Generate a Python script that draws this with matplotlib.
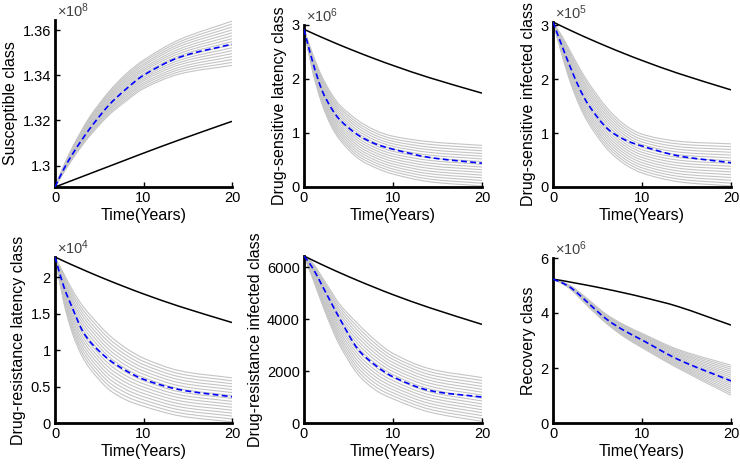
import matplotlib
matplotlib.use("Agg")
import matplotlib.pyplot as plt
from matplotlib.path import Path
from matplotlib.patches import PathPatch

plt.rcParams['font.family'] = ['Liberation Sans', 'DejaVu Sans']
plt.rcParams['mathtext.default'] = 'regular'

# sample times (years)
t_years = [0, 1, 2, 3, 4, 6, 8, 10, 14, 20]

# Susceptible class (x 1e8)
sus_black = [1.2905, 1.2920, 1.2935, 1.2950, 1.2965, 1.2995, 1.3025, 1.3055, 1.3113, 1.3196]
sus_blue = [1.2905, 1.2985, 1.3052, 1.3112, 1.3167, 1.3264, 1.3338, 1.3400, 1.3479, 1.3538]
sus_gray = [
    [1.2905, 1.2970, 1.3030, 1.3085, 1.3135, 1.3220, 1.3285, 1.3341, 1.3405, 1.3444],
    [1.2905, 1.2972, 1.3034, 1.3090, 1.3141, 1.3227, 1.3293, 1.3349, 1.3415, 1.3457],
    [1.2905, 1.2974, 1.3037, 1.3094, 1.3146, 1.3234, 1.3301, 1.3358, 1.3425, 1.3470],
    [1.2905, 1.2976, 1.3041, 1.3099, 1.3152, 1.3241, 1.3309, 1.3366, 1.3435, 1.3483],
    [1.2905, 1.2978, 1.3044, 1.3104, 1.3158, 1.3247, 1.3317, 1.3375, 1.3446, 1.3496],
    [1.2905, 1.2980, 1.3048, 1.3108, 1.3163, 1.3254, 1.3325, 1.3383, 1.3456, 1.3509],
    [1.2905, 1.2982, 1.3051, 1.3113, 1.3169, 1.3261, 1.3333, 1.3391, 1.3466, 1.3522],
    [1.2905, 1.2984, 1.3055, 1.3118, 1.3175, 1.3268, 1.3341, 1.3400, 1.3476, 1.3535],
    [1.2905, 1.2986, 1.3058, 1.3122, 1.3180, 1.3275, 1.3349, 1.3408, 1.3486, 1.3549],
    [1.2905, 1.2988, 1.3062, 1.3127, 1.3186, 1.3282, 1.3357, 1.3417, 1.3496, 1.3562],
    [1.2905, 1.2990, 1.3065, 1.3132, 1.3192, 1.3289, 1.3365, 1.3425, 1.3506, 1.3575],
    [1.2905, 1.2992, 1.3069, 1.3136, 1.3197, 1.3296, 1.3373, 1.3433, 1.3516, 1.3588],
    [1.2905, 1.2994, 1.3072, 1.3141, 1.3203, 1.3302, 1.3381, 1.3442, 1.3527, 1.3601],
    [1.2905, 1.2996, 1.3076, 1.3146, 1.3209, 1.3309, 1.3389, 1.3450, 1.3537, 1.3614],
    [1.2905, 1.2998, 1.3079, 1.3150, 1.3214, 1.3316, 1.3397, 1.3459, 1.3547, 1.3627],
    [1.2905, 1.3000, 1.3083, 1.3155, 1.3220, 1.3323, 1.3405, 1.3467, 1.3557, 1.3640],
]

# Drug-sensitive latency class (x 1e6)
dsl_black = [2.92, 2.845, 2.772, 2.701, 2.631, 2.498, 2.371, 2.251, 2.029, 1.738]
dsl_blue = [2.92, 2.30, 1.80, 1.48, 1.25, 0.97, 0.80, 0.70, 0.55, 0.44]
dsl_gray = [
    [2.92, 2.120, 1.550, 1.150, 0.880, 0.540, 0.360, 0.240, 0.100, 0.020],
    [2.92, 2.142, 1.583, 1.190, 0.923, 0.587, 0.406, 0.287, 0.149, 0.070],
    [2.92, 2.164, 1.617, 1.230, 0.965, 0.633, 0.452, 0.333, 0.199, 0.120],
    [2.92, 2.186, 1.650, 1.270, 1.008, 0.680, 0.498, 0.380, 0.248, 0.170],
    [2.92, 2.208, 1.683, 1.310, 1.051, 0.727, 0.544, 0.427, 0.297, 0.220],
    [2.92, 2.230, 1.717, 1.350, 1.093, 0.773, 0.590, 0.473, 0.347, 0.270],
    [2.92, 2.252, 1.750, 1.390, 1.136, 0.820, 0.636, 0.520, 0.396, 0.320],
    [2.92, 2.274, 1.783, 1.430, 1.179, 0.867, 0.682, 0.567, 0.445, 0.370],
    [2.92, 2.296, 1.817, 1.470, 1.221, 0.913, 0.728, 0.613, 0.495, 0.420],
    [2.92, 2.318, 1.850, 1.510, 1.264, 0.960, 0.774, 0.660, 0.544, 0.470],
    [2.92, 2.340, 1.883, 1.550, 1.307, 1.007, 0.820, 0.707, 0.593, 0.520],
    [2.92, 2.362, 1.917, 1.590, 1.349, 1.053, 0.866, 0.753, 0.643, 0.570],
    [2.92, 2.384, 1.950, 1.630, 1.392, 1.100, 0.912, 0.800, 0.692, 0.620],
    [2.92, 2.406, 1.983, 1.670, 1.435, 1.147, 0.958, 0.847, 0.741, 0.670],
    [2.92, 2.428, 2.017, 1.710, 1.477, 1.193, 1.004, 0.893, 0.791, 0.720],
    [2.92, 2.450, 2.050, 1.750, 1.520, 1.240, 1.050, 0.940, 0.840, 0.770],
]

# Drug-sensitive infected class (x 1e5)
dsi_black = [3.06, 2.980, 2.902, 2.826, 2.752, 2.610, 2.475, 2.347, 2.111, 1.801]
dsi_blue = [3.06, 2.62, 2.20, 1.82, 1.52, 1.10, 0.88, 0.76, 0.58, 0.45]
dsi_gray = [
    [3.06, 2.450, 1.920, 1.500, 1.180, 0.720, 0.430, 0.260, 0.100, 0.020],
    [3.06, 2.473, 1.959, 1.547, 1.230, 0.771, 0.479, 0.308, 0.150, 0.072],
    [3.06, 2.497, 1.997, 1.593, 1.280, 0.821, 0.527, 0.356, 0.200, 0.124],
    [3.06, 2.520, 2.036, 1.640, 1.330, 0.872, 0.576, 0.404, 0.250, 0.176],
    [3.06, 2.543, 2.075, 1.687, 1.380, 0.923, 0.625, 0.452, 0.300, 0.228],
    [3.06, 2.567, 2.113, 1.733, 1.430, 0.973, 0.673, 0.500, 0.350, 0.280],
    [3.06, 2.590, 2.152, 1.780, 1.480, 1.024, 0.722, 0.548, 0.400, 0.332],
    [3.06, 2.613, 2.191, 1.827, 1.530, 1.075, 0.771, 0.596, 0.450, 0.384],
    [3.06, 2.637, 2.229, 1.873, 1.580, 1.125, 0.819, 0.644, 0.500, 0.436],
    [3.06, 2.660, 2.268, 1.920, 1.630, 1.176, 0.868, 0.692, 0.550, 0.488],
    [3.06, 2.683, 2.307, 1.967, 1.680, 1.227, 0.917, 0.740, 0.600, 0.540],
    [3.06, 2.707, 2.345, 2.013, 1.730, 1.277, 0.965, 0.788, 0.650, 0.592],
    [3.06, 2.730, 2.384, 2.060, 1.780, 1.328, 1.014, 0.836, 0.700, 0.644],
    [3.06, 2.753, 2.423, 2.107, 1.830, 1.379, 1.063, 0.884, 0.750, 0.696],
    [3.06, 2.777, 2.461, 2.153, 1.880, 1.429, 1.111, 0.932, 0.800, 0.748],
    [3.06, 2.800, 2.500, 2.200, 1.930, 1.480, 1.160, 0.980, 0.850, 0.800],
]

# Drug-resistance latency class (x 1e4)
drl_black = [2.28, 2.223, 2.168, 2.115, 2.062, 1.961, 1.865, 1.773, 1.604, 1.380]
drl_blue = [2.28, 1.87, 1.57, 1.29, 1.11, 0.88, 0.72, 0.60, 0.46, 0.36]
drl_gray = [
    [2.28, 1.650, 1.220, 0.930, 0.740, 0.470, 0.320, 0.230, 0.100, 0.015],
    [2.28, 1.677, 1.260, 0.977, 0.789, 0.520, 0.367, 0.274, 0.141, 0.055],
    [2.28, 1.703, 1.300, 1.023, 0.839, 0.570, 0.415, 0.318, 0.183, 0.096],
    [2.28, 1.730, 1.340, 1.070, 0.888, 0.620, 0.462, 0.362, 0.224, 0.136],
    [2.28, 1.757, 1.380, 1.117, 0.937, 0.670, 0.509, 0.406, 0.265, 0.176],
    [2.28, 1.783, 1.420, 1.163, 0.987, 0.720, 0.557, 0.450, 0.307, 0.217],
    [2.28, 1.810, 1.460, 1.210, 1.036, 0.770, 0.604, 0.494, 0.348, 0.257],
    [2.28, 1.837, 1.500, 1.257, 1.085, 0.820, 0.651, 0.538, 0.389, 0.297],
    [2.28, 1.863, 1.540, 1.303, 1.135, 0.870, 0.699, 0.582, 0.431, 0.338],
    [2.28, 1.890, 1.580, 1.350, 1.184, 0.920, 0.746, 0.626, 0.472, 0.378],
    [2.28, 1.917, 1.620, 1.397, 1.233, 0.970, 0.793, 0.670, 0.513, 0.418],
    [2.28, 1.943, 1.660, 1.443, 1.283, 1.020, 0.841, 0.714, 0.555, 0.459],
    [2.28, 1.970, 1.700, 1.490, 1.332, 1.070, 0.888, 0.758, 0.596, 0.499],
    [2.28, 1.997, 1.740, 1.537, 1.381, 1.120, 0.935, 0.802, 0.637, 0.539],
    [2.28, 2.023, 1.780, 1.583, 1.431, 1.170, 0.983, 0.846, 0.679, 0.580],
    [2.28, 2.050, 1.820, 1.630, 1.480, 1.220, 1.030, 0.890, 0.720, 0.620],
]

# Drug-resistance infected class
dri_black = [6435, 6268, 6105, 5947, 5793, 5496, 5215, 4945, 4455, 3800]
dri_blue = [6435, 5960, 5320, 4670, 4030, 2870, 2230, 1780, 1260, 1000]
dri_gray = [
    [6435, 5550, 4620, 3750, 3000, 1900, 1280, 930, 430, 60],
    [6435, 5590, 4688, 3840, 3105, 2029, 1407, 1047, 541, 173],
    [6435, 5630, 4756, 3930, 3211, 2159, 1535, 1163, 653, 285],
    [6435, 5670, 4824, 4020, 3316, 2288, 1662, 1280, 764, 398],
    [6435, 5710, 4892, 4110, 3421, 2417, 1789, 1397, 875, 511],
    [6435, 5750, 4960, 4200, 3527, 2547, 1917, 1513, 987, 623],
    [6435, 5790, 5028, 4290, 3632, 2676, 2044, 1630, 1098, 736],
    [6435, 5830, 5096, 4380, 3737, 2805, 2171, 1747, 1209, 849],
    [6435, 5870, 5164, 4470, 3843, 2935, 2299, 1863, 1321, 961],
    [6435, 5910, 5232, 4560, 3948, 3064, 2426, 1980, 1432, 1074],
    [6435, 5950, 5300, 4650, 4053, 3193, 2553, 2097, 1543, 1187],
    [6435, 5990, 5368, 4740, 4159, 3323, 2681, 2213, 1655, 1299],
    [6435, 6030, 5436, 4830, 4264, 3452, 2808, 2330, 1766, 1412],
    [6435, 6070, 5504, 4920, 4369, 3581, 2935, 2447, 1877, 1525],
    [6435, 6110, 5572, 5010, 4475, 3711, 3063, 2563, 1989, 1637],
    [6435, 6150, 5640, 5100, 4580, 3840, 3190, 2680, 2100, 1750],
]

# Recovery class (x 1e6)
rec_black = [5.23, 5.18, 5.12, 5.06, 5.00, 4.87, 4.73, 4.58, 4.24, 3.56]
rec_blue = [5.23, 5.10, 4.92, 4.65, 4.35, 3.78, 3.36, 3.02, 2.32, 1.53]
rec_gray = [
    [5.23, 5.080, 4.860, 4.550, 4.220, 3.620, 3.130, 2.740, 2.000, 1.010],
    [5.23, 5.083, 4.868, 4.563, 4.237, 3.642, 3.159, 2.775, 2.045, 1.083],
    [5.23, 5.087, 4.876, 4.577, 4.255, 3.664, 3.189, 2.809, 2.091, 1.155],
    [5.23, 5.090, 4.884, 4.590, 4.272, 3.686, 3.218, 2.844, 2.136, 1.228],
    [5.23, 5.093, 4.892, 4.603, 4.289, 3.708, 3.247, 2.879, 2.181, 1.301],
    [5.23, 5.097, 4.900, 4.617, 4.307, 3.730, 3.277, 2.913, 2.227, 1.373],
    [5.23, 5.100, 4.908, 4.630, 4.324, 3.752, 3.306, 2.948, 2.272, 1.446],
    [5.23, 5.103, 4.916, 4.643, 4.341, 3.774, 3.335, 2.983, 2.317, 1.519],
    [5.23, 5.107, 4.924, 4.657, 4.359, 3.796, 3.365, 3.017, 2.363, 1.591],
    [5.23, 5.110, 4.932, 4.670, 4.376, 3.818, 3.394, 3.052, 2.408, 1.664],
    [5.23, 5.113, 4.940, 4.683, 4.393, 3.840, 3.423, 3.087, 2.453, 1.737],
    [5.23, 5.117, 4.948, 4.697, 4.411, 3.862, 3.453, 3.121, 2.499, 1.809],
    [5.23, 5.120, 4.956, 4.710, 4.428, 3.884, 3.482, 3.156, 2.544, 1.882],
    [5.23, 5.123, 4.964, 4.723, 4.445, 3.906, 3.511, 3.191, 2.589, 1.955],
    [5.23, 5.127, 4.972, 4.737, 4.463, 3.928, 3.541, 3.225, 2.635, 2.027],
    [5.23, 5.130, 4.980, 4.750, 4.480, 3.950, 3.570, 3.260, 2.680, 2.100],
]

W, H = 740, 469


def px_box(x0, x1, y0, y1):
    # pixel box (from top-left) -> figure fraction
    return [x0 / W, 1 - y1 / H, (x1 - x0) / W, (y1 - y0) / H]


def smooth_line(ax, t, y, **kw):
    # draw the sampled curve as a smooth bezier path through every sample
    n = len(t)
    m = []
    for i in range(n):
        a, b = max(i - 1, 0), min(i + 1, n - 1)
        m.append((y[b] - y[a]) / (t[b] - t[a]))
    verts = [(t[0], y[0])]
    codes = [Path.MOVETO]
    for i in range(n - 1):
        h = (t[i + 1] - t[i]) / 3
        verts += [(t[i] + h, y[i] + m[i] * h),
                  (t[i + 1] - h, y[i + 1] - m[i + 1] * h),
                  (t[i + 1], y[i + 1])]
        codes += [Path.CURVE4] * 3
    ax.add_patch(PathPatch(Path(verts, codes), fill=False, **kw))


panels = [
    dict(box=(55, 232, 20, 187), label='Susceptible class', black=sus_black, blue=sus_blue,
         gray=sus_gray, ylim=(1.2905, 1.3645), yticks=[1.30, 1.32, 1.34, 1.36],
         ytl=['1.3', '1.32', '1.34', '1.36'], exp='8'),
    dict(box=(304, 482, 25, 187), label='Drug-sensitive latency class', black=dsl_black,
         blue=dsl_blue, gray=dsl_gray, ylim=(0, 3), yticks=[0, 1, 2, 3],
         ytl=['0', '1', '2', '3'], exp='6'),
    dict(box=(553, 731, 22, 187), label='Drug-sensitive infected class', black=dsi_black,
         blue=dsi_blue, gray=dsi_gray, ylim=(0, 3.06), yticks=[0, 1, 2, 3],
         ytl=['0', '1', '2', '3'], exp='5'),
    dict(box=(55, 232, 257, 423), label='Drug-resistance latency class', black=drl_black,
         blue=drl_blue, gray=drl_gray, ylim=(0, 2.28), yticks=[0, 0.5, 1, 1.5, 2],
         ytl=['0', '0.5', '1', '1.5', '2'], exp='4'),
    dict(box=(304, 482, 256, 423), label='Drug-resistance infected class', black=dri_black,
         blue=dri_blue, gray=dri_gray, ylim=(0, 6435), yticks=[0, 2000, 4000, 6000],
         ytl=['0', '2000', '4000', '6000'], exp=None),
    dict(box=(553, 731, 258, 423), label='Recovery class', black=rec_black, blue=rec_blue,
         gray=rec_gray, ylim=(0, 6), yticks=[0, 2, 4, 6],
         ytl=['0', '2', '4', '6'], exp='6'),
]

fig = plt.figure(figsize=(W / 100, H / 100), dpi=100)

for p in panels:
    ax = fig.add_axes(px_box(*p['box']))
    for g in p['gray']:
        smooth_line(ax, t_years, g, edgecolor='#c4c4c4', lw=0.8, zorder=1)
    smooth_line(ax, t_years, p['black'], edgecolor='black', lw=1.1, zorder=2)
    smooth_line(ax, t_years, p['blue'], edgecolor='#0000ff', lw=1.2,
                ls=(0, (3.5, 2)), zorder=3)

    ax.set_xlim(0, 20)
    ax.set_ylim(*p['ylim'])
    ax.set_xticks([0, 10, 20])
    ax.set_xticklabels(['0', '10', '20'])
    ax.set_yticks(p['yticks'])
    ax.set_yticklabels(p['ytl'])
    ax.set_xlabel('Time(Years)', fontsize=11.5, labelpad=2)
    ax.set_ylabel(p['label'], fontsize=11.5, labelpad=3)

    for s in ['top', 'right']:
        ax.spines[s].set_visible(False)
    for s in ['left', 'bottom']:
        ax.spines[s].set_linewidth(2.0)
        ax.spines[s].set_capstyle('projecting')
    ax.tick_params(direction='in', length=3.5, width=1, labelsize=10.5, pad=3,
                   colors='black')

    if p['exp']:
        ax.text(0.01, 1.0, r'$\times$10$^{' + p['exp'] + '}$', transform=ax.transAxes,
                ha='left', va='bottom', fontsize=10.5, color='#404040')

fig.savefig('out.png', dpi=100)
